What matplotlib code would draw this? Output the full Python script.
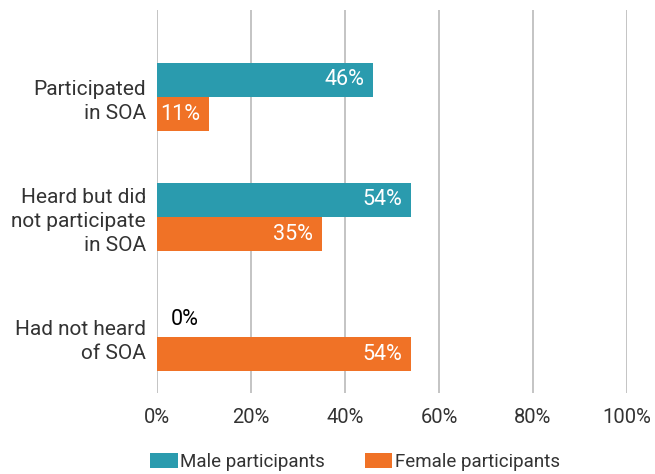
import matplotlib.pyplot as plt
import numpy as np

plt.rcParams['font.family'] = ['Roboto', 'DejaVu Sans']

#%% data
categories = ['Participated\nin SOA', 'Heard but did\nnot participate\nin SOA', 'Had not heard\nof SOA']
male = [46, 54, 0]
female = [11, 35, 54]
series_names = ['Male participants', 'Female participants']
xticks = [0, 20, 40, 60, 80, 100]

c_male = '#2A9BAE'
c_female = '#F07226'
txt = '#333333'
fs = 14.5

#%% plot
fig = plt.figure(figsize=(6.55, 4.74), dpi=100)
ax = fig.add_axes([157/655, 1-393/474, 470/655, 383/474])

y = np.arange(len(categories))
h = 0.285
bm = ax.barh(y - h/2, male, height=h, color=c_male, label=series_names[0], zorder=3)
bf = ax.barh(y + h/2, female, height=h, color=c_female, label=series_names[1], zorder=3)

for bars, vals in [(bm, male), (bf, female)]:
    for b, v in zip(bars, vals):
        yc = b.get_y() + b.get_height()/2
        if v > 5:
            ax.annotate(f'{v}%', (v, yc), xytext=(-6, 0), textcoords='offset points',
                        ha='right', va='center', color='white', fontsize=15.5, zorder=4)
        else:
            ax.annotate(f'{v}%', (v, yc), xytext=(10, 0), textcoords='offset points',
                        ha='left', va='center', color='black', fontsize=15.5, zorder=4)

ax.set_xlim(0, 100)
ax.set_ylim(2.467, -0.725)
ax.set_xticks(xticks)
ax.set_xticklabels([f'{t}%' for t in xticks], fontsize=fs, color=txt)
ax.set_yticks(y)
ax.set_yticklabels(categories, fontsize=15, color=txt, linespacing=1.32)
ax.tick_params(length=0, pad=8)
ax.tick_params(axis='x', pad=11)
ax.grid(axis='x', color='#BFBFBF', linewidth=1.3, zorder=0)
for s in ax.spines.values():
    s.set_visible(False)

fig.legend(loc='lower center', ncol=2, frameon=False, bbox_to_anchor=(0.542, -0.03),
           handlelength=1.45, handleheight=0.85, columnspacing=2.1, handletextpad=0.15,
           prop={'size': 13.5}, labelcolor=txt)

plt.savefig('out.png', dpi=100)
